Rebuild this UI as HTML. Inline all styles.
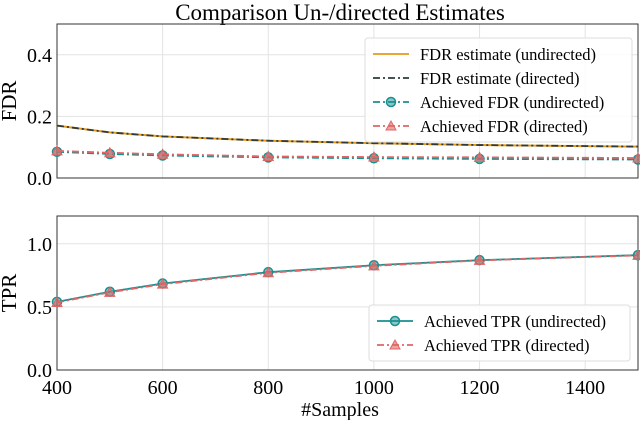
<!DOCTYPE html>
<html><head><meta charset="utf-8"><style>
body{margin:0;background:#fff}
svg{font-family:"Liberation Serif",serif}
</style></head><body>
<svg width="640" height="420">
<text x="340" y="20" font-size="23" text-anchor="middle">Comparison Un-/directed Estimates</text>
<g id="g"></g>
</svg>
<script>
const samples=[400,500,600,800,1000,1200,1500];
const fdrEst=[0.17,0.148,0.135,0.121,0.113,0.107,0.102];
const fdrUnd=[0.085,0.078,0.073,0.067,0.064,0.062,0.060];
const fdrDir=[0.088,0.082,0.077,0.070,0.068,0.067,0.065];
const tprUnd=[0.54,0.62,0.685,0.775,0.83,0.87,0.91];
const tprDir=[0.535,0.615,0.68,0.77,0.825,0.868,0.908];
const xTicks=[400,600,800,1000,1200,1400];
const fdrTicks=[0,0.2,0.4];
const tprTicks=[0,0.5,1.0];
const NS="http://www.w3.org/2000/svg",g=document.getElementById('g');
const X0=57,X1=638;
const sx=v=>X0+(v-400)/(1500-400)*(X1-X0);
function mk(t,a,p){const e=document.createElementNS(NS,t);for(const k in a)e.setAttribute(k,a[k]);(p||g).appendChild(e);return e;}
function panel(top,bot,ymax,ticks,name,ylabel,xlabels){
 const sy=v=>bot-v/ymax*(bot-top);
 xTicks.forEach(t=>{const l=mk('line',{x1:sx(t),x2:sx(t),y1:top,y2:bot,stroke:'#e3e3e3'});
 
 if(xlabels){const tx=mk('text',{x:sx(t),y:bot+24,'font-size':20,'text-anchor':'middle'});tx.textContent=t;
 }});
 ticks.forEach(t=>{const l=mk('line',{x1:X0,x2:X1,y1:sy(t),y2:sy(t),stroke:'#e3e3e3'});
 
 const tx=mk('text',{x:X0-5,y:sy(t)+7,'font-size':20,'text-anchor':'end'});tx.textContent=t.toFixed(1);
 });
 const r=mk('rect',{x:X0,y:top,width:X1-X0,height:bot-top,fill:'none',stroke:'#333'});
 
 const yl=mk('text',{x:0,y:0,'font-size':21,'text-anchor':'middle',transform:`translate(16,${(top+bot)/2}) rotate(-90)`});yl.textContent=ylabel;
 
 return sy;}
function series(sy,vals,color,dash,marker,name,w){
 const p=mk('polyline',{points:samples.map((s,i)=>sx(s)+','+sy(vals[i])).join(' '),fill:'none',stroke:color,'stroke-width':w||1.8,'stroke-dasharray':dash||''});
 
 if(marker) samples.forEach((s,i)=>drawMarker(sx(s),sy(vals[i]),color,marker));}
function drawMarker(x,y,c,m){let e;
 if(m==='o'){e=mk('circle',{cx:x,cy:y,r:4.5,fill:c,'fill-opacity':0.5,stroke:c,'stroke-width':1.5});}
 else{e=mk('polygon',{points:`${x},${y-5} ${x-5},${y+4} ${x+5},${y+4}`,fill:c,'fill-opacity':0.6,stroke:c});}
 }
const teal='#17908f',red='#e06666',dark='#2f3b3b',orange='#e69a1a';
const sy1=panel(24,178,0.5,fdrTicks,'fdr','FDR',false);
series(sy1,fdrEst,orange,'',null,'fdr-estimate-undirected-line',2);
series(sy1,fdrEst,dark,'7,3,2,3',null,'fdr-estimate-directed-line',1.8);
series(sy1,fdrUnd,teal,'7,3,2,3','o','achieved-fdr-undirected-line');
series(sy1,fdrDir,red,'7,3,2,3','t','achieved-fdr-directed-line');
const sy2=panel(216,370,1.22,tprTicks,'tpr','TPR',true);
series(sy2,tprUnd,teal,'','o','achieved-tpr-undirected-line');
series(sy2,tprDir,red,'7,3,2,3','t','achieved-tpr-directed-line');
const xt=mk('text',{x:340,y:416,'font-size':20,'text-anchor':'middle'});xt.textContent='#Samples';

function legend(x,y,w,entries,name){
 const r=mk('rect',{x,y,width:w,height:entries.length*24+8,rx:3,fill:'#fff','fill-opacity':0.85,stroke:'#ddd'});
 
 entries.forEach((en,i)=>{const cy=y+16+i*24;
  const l=mk('line',{x1:x+8,x2:x+44,y1:cy,y2:cy,stroke:en[1],'stroke-width':1.8,'stroke-dasharray':en[2]});
  
  if(en[3])drawMarker(x+26,cy,en[1],en[3]);
  const t=mk('text',{x:x+55,y:cy+6,'font-size':16.5});t.textContent=en[0];
  });}
legend(365,38,267,[['FDR estimate (undirected)',orange,'',null],['FDR estimate (directed)',dark,'7,3,2,3',null],['Achieved FDR (undirected)',teal,'7,3,2,3','o'],['Achieved FDR (directed)',red,'7,3,2,3','t']],'fdr-legend');
legend(369,305,261,[['Achieved TPR (undirected)',teal,'','o'],['Achieved TPR (directed)',red,'7,3,2,3','t']],'tpr-legend');
</script>
</body></html>
